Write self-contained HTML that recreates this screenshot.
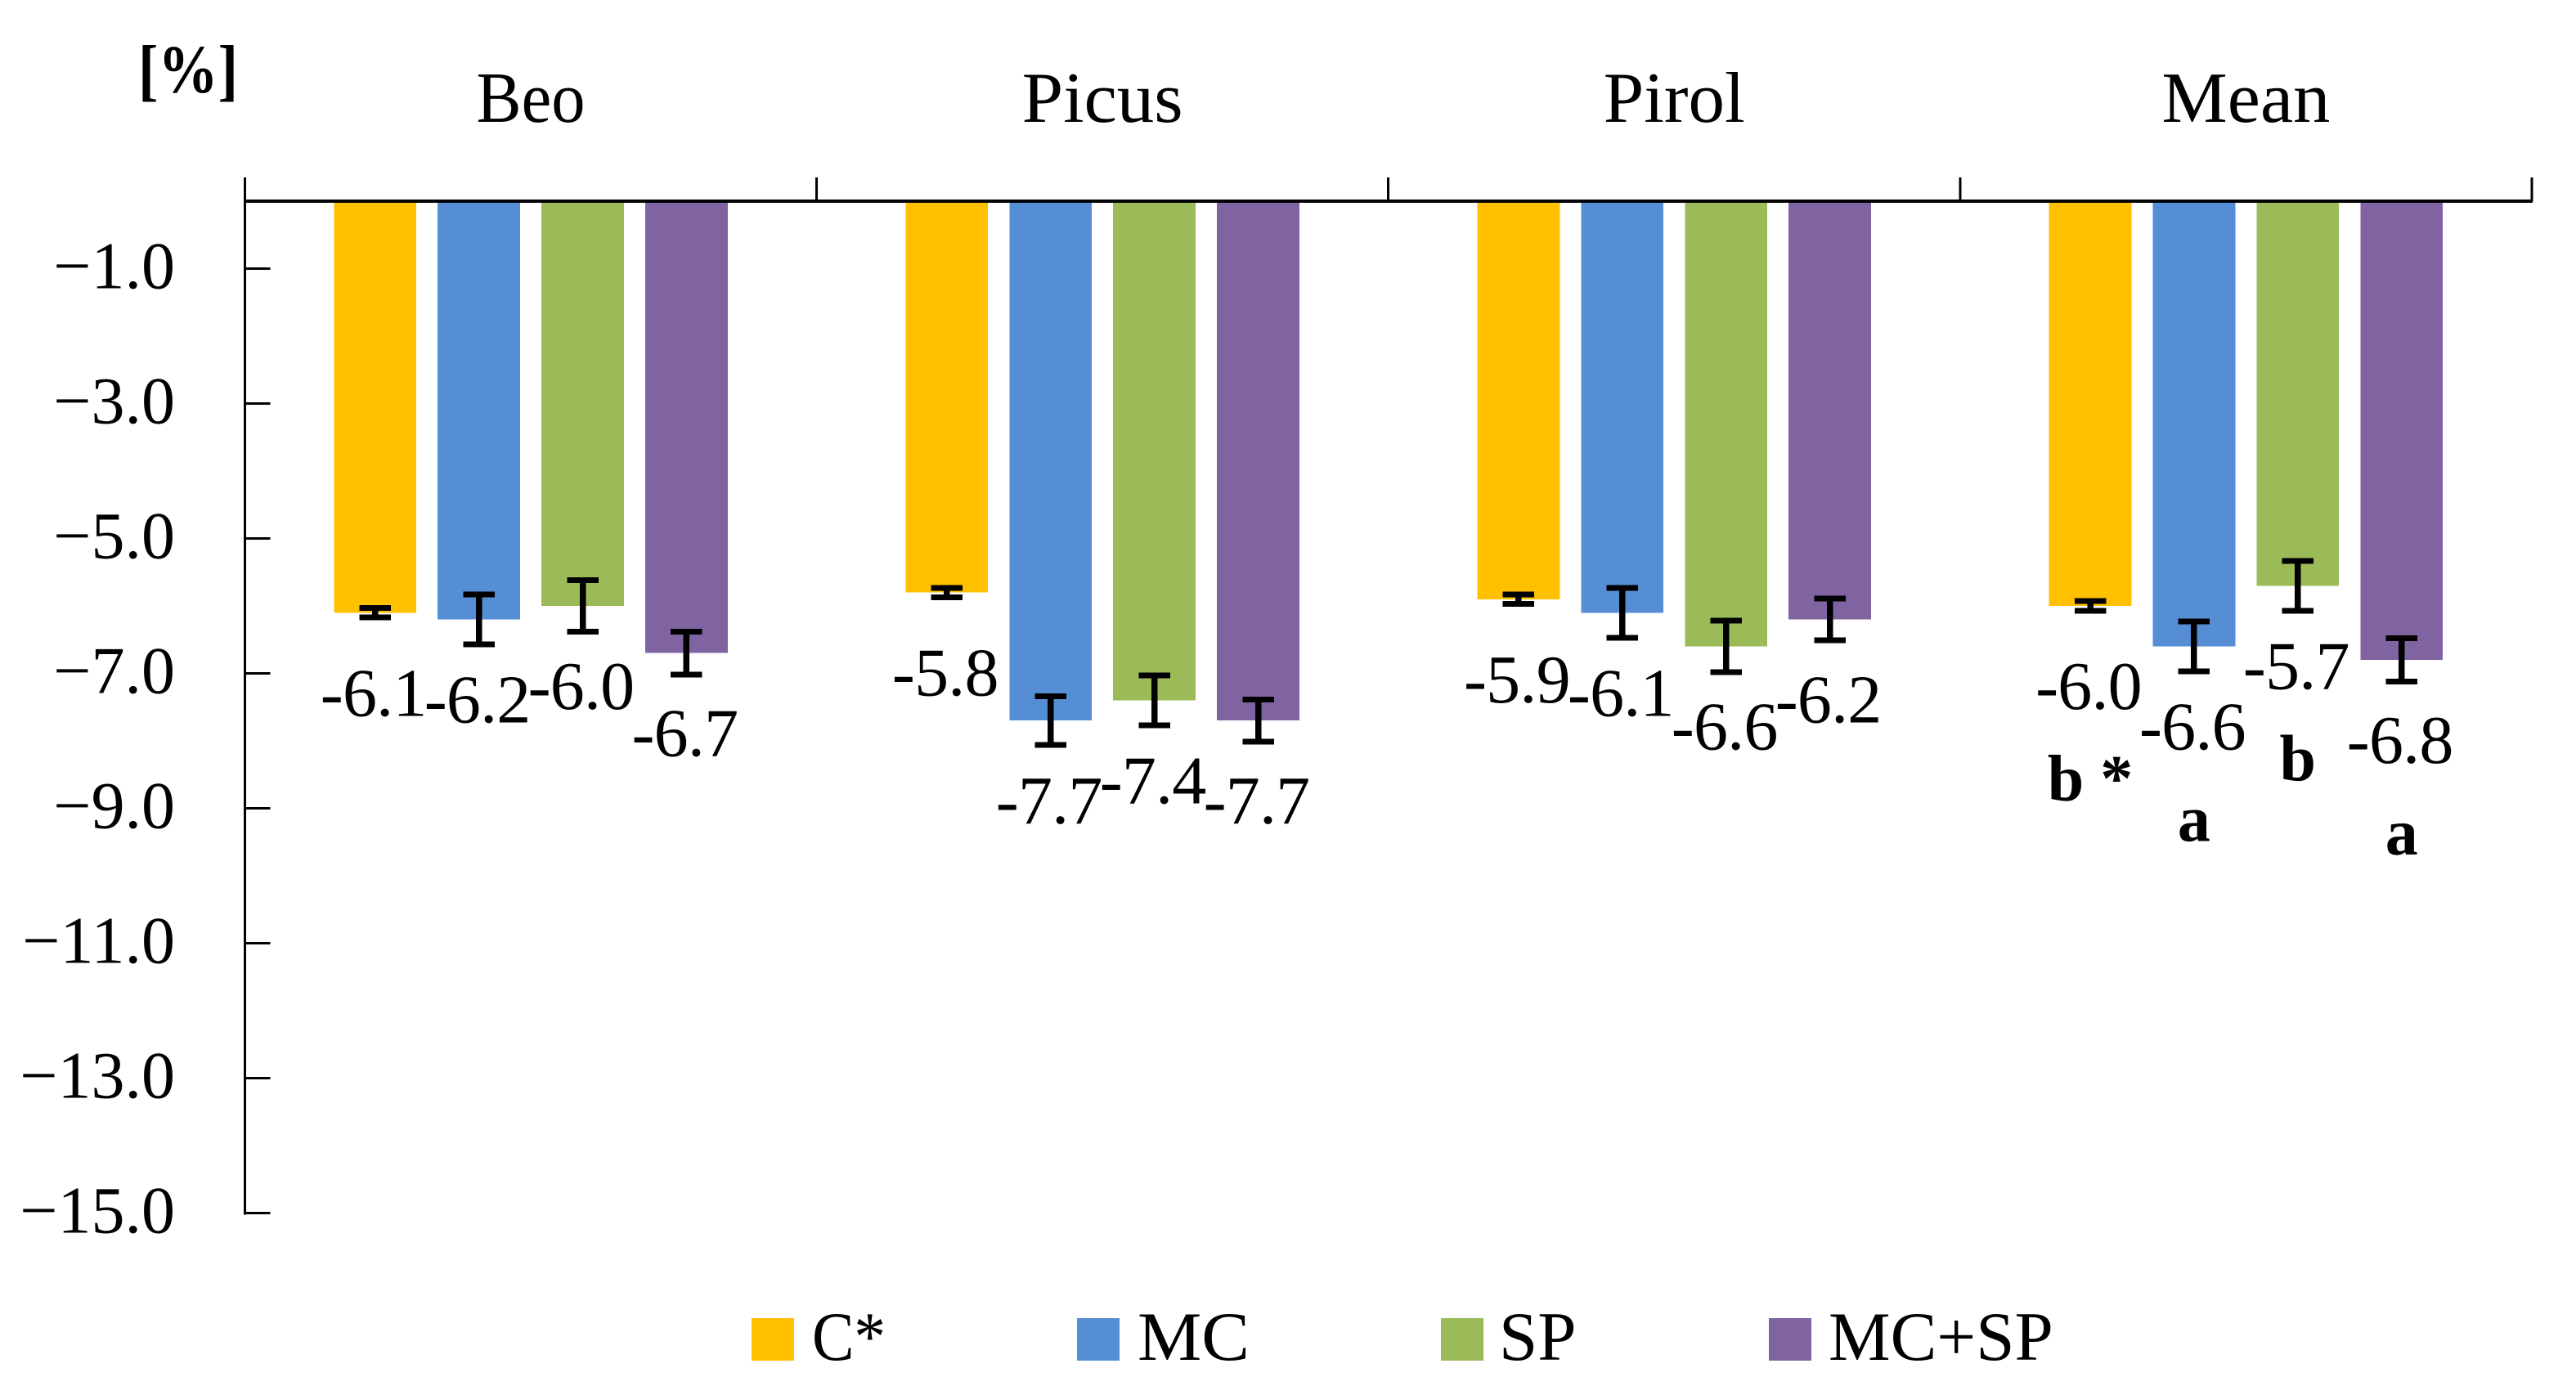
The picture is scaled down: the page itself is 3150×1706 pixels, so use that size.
<!DOCTYPE html>
<html lang="en">
<head>
<meta charset="utf-8">
<title>Bar chart of percentage change by cultivar and treatment</title>
<style>
  html, body { margin: 0; padding: 0; background: #fff; }
  svg { display: block; }
  text { font-family: "Liberation Serif", serif; fill: #000; }
</style>
</head>
<body>
<svg id="chart" xmlns="http://www.w3.org/2000/svg" width="3150" height="1706" viewBox="0 0 3150 1706">
  <rect x="0" y="0" width="3150" height="1706" fill="#ffffff"/>
  <text x="169" y="113" font-size="84" font-weight="bold" textLength="122" lengthAdjust="spacingAndGlyphs">[%]</text>
  <g>
    <rect x="919" y="1612" width="52" height="52" fill="#FFC000"/>
    <text x="993" y="1663" font-size="85" textLength="90" lengthAdjust="spacingAndGlyphs">C*</text>
    <rect x="1317" y="1612" width="52" height="52" fill="#558ED5"/>
    <text x="1391" y="1663" font-size="85" textLength="137" lengthAdjust="spacingAndGlyphs">MC</text>
    <rect x="1762" y="1612" width="52" height="52" fill="#9BBB59"/>
    <text x="1833" y="1663" font-size="85">SP</text>
    <rect x="2163" y="1612" width="52" height="52" fill="#8064A2"/>
    <text x="2236" y="1663" font-size="85">MC+SP</text>
  </g>
</svg>
<script>
// ---- Chart data ----
const categories = ["Beo", "Picus", "Pirol", "Mean"];
const seriesKeys = ["c", "mc", "sp", "mc-sp"];
const valuesC = [-6.1, -5.8, -5.9, -6.0];
const valuesMC = [-6.2, -7.7, -6.1, -6.6];
const valuesSP = [-6.0, -7.4, -6.6, -5.7];
const valuesMCSP = [-6.7, -7.7, -6.2, -6.8];
const errorsC = [0.07, 0.07, 0.07, 0.07];
const errorsMC = [0.37, 0.36, 0.37, 0.37];
const errorsSP = [0.38, 0.37, 0.38, 0.37];
const errorsMCSP = [0.32, 0.31, 0.31, 0.32];
const meanLetters = ["b *", "a", "b", "a"];
const yTickValues = [-1, -3, -5, -7, -9, -11, -13, -15];
const yTickLabels = ["\u22121.0", "\u22123.0", "\u22125.0", "\u22127.0", "\u22129.0", "\u221211.0", "\u221213.0", "\u221215.0"];

const seriesValues = [valuesC, valuesMC, valuesSP, valuesMCSP];
const seriesErrors = [errorsC, errorsMC, errorsSP, errorsMCSP];
const seriesColors = ["#FFC000", "#558ED5", "#9BBB59", "#8064A2"];

// ---- Layout and axis functions ----
const PLOT_LEFT = 299.5, CATEGORY_WIDTH = 699.1, ZERO_Y = 246.2, UNIT_HEIGHT = 82.47;
const BAR_PITCH = 126.9, BAR_WIDTH = 100.8;
const CAP_WIDTH = 38.5, CAP_THICKNESS = 7, STEM_WIDTH = 7.5;
const LABEL_OFFSET = 126, LETTER_OFFSET = 238;
const categoryLabelLengths = [133, 197, 173, 206];

function yScale(v) { return ZERO_Y - v * UNIT_HEIGHT; }
function categoryStart(i) { return PLOT_LEFT + i * CATEGORY_WIDTH; }
function categoryCenter(i) { return categoryStart(i) + CATEGORY_WIDTH / 2; }
function barCenter(c, s) { return categoryCenter(c) + (s - (seriesKeys.length - 1) / 2) * BAR_PITCH; }

const svg = document.getElementById("chart");
const NS = "http://www.w3.org/2000/svg";
function make(tag, attrs, parent) {
  const el = document.createElementNS(NS, tag);
  for (const k in attrs) el.setAttribute(k, attrs[k]);
  parent.appendChild(el);
  return el;
}

// ---- Bars ----
const barsGroup = make("g", {}, svg);


categories.forEach(function (cat, c) {
  seriesKeys.forEach(function (key, s) {
    const top = yScale(0);
    const bottom = yScale(seriesValues[s][c]);
    const bar = make("rect", {
      x: barCenter(c, s) - BAR_WIDTH / 2,
      y: top,
      width: BAR_WIDTH,
      height: bottom - top,
      fill: seriesColors[s],
      "shape-rendering": "crispEdges"
    }, barsGroup);
    
    
  });
});

// ---- Axes ----
const axesGroup = make("g", { stroke: "#000", "shape-rendering": "crispEdges" }, svg);



const xAxisLine = make("line", { x1: PLOT_LEFT, x2: categoryStart(categories.length) + 1, y1: yScale(0), y2: yScale(0), "stroke-width": 4 }, axesGroup);



const yAxisLine = make("line", { x1: PLOT_LEFT, x2: PLOT_LEFT, y1: 217, y2: yScale(-15) + 2, "stroke-width": 3 }, axesGroup);



for (let i = 1; i <= categories.length; i++) {
  const xTick = make("line", { x1: categoryStart(i), x2: categoryStart(i), y1: 217, y2: yScale(0), "stroke-width": 3 }, axesGroup);
  
  
}

yTickValues.forEach(function (v, i) {
  const yTick = make("line", { x1: PLOT_LEFT, x2: PLOT_LEFT + 31, y1: yScale(v), y2: yScale(v), "stroke-width": 3 }, axesGroup);
  
  

  const yLabel = make("text", { x: 214, y: yScale(v) + 24, "font-size": 82, "text-anchor": "end" }, svg);
  yLabel.textContent = yTickLabels[i];
  
  
});

// ---- Category labels ----
categories.forEach(function (cat, c) {
  const catLabel = make("text", {
    x: categoryCenter(c),
    y: 149,
    "font-size": 88,
    "text-anchor": "middle",
    textLength: categoryLabelLengths[c],
    lengthAdjust: "spacingAndGlyphs"
  }, svg);
  catLabel.textContent = cat;
  
  
});

// ---- Error bars ----
const errorGroup = make("g", { fill: "#000", "shape-rendering": "crispEdges" }, svg);


categories.forEach(function (cat, c) {
  seriesKeys.forEach(function (key, s) {
    const cx = barCenter(c, s);
    const v = seriesValues[s][c];
    const e = seriesErrors[s][c];
    const yUp = yScale(v + e);
    const yDown = yScale(v - e);
    const errorBar = make("g", {}, errorGroup);
    
    
    make("rect", { x: cx - STEM_WIDTH / 2, y: yUp, width: STEM_WIDTH, height: yDown - yUp }, errorBar);
    make("rect", { x: cx - CAP_WIDTH / 2, y: yUp - CAP_THICKNESS / 2, width: CAP_WIDTH, height: CAP_THICKNESS }, errorBar);
    make("rect", { x: cx - CAP_WIDTH / 2, y: yDown - CAP_THICKNESS / 2, width: CAP_WIDTH, height: CAP_THICKNESS }, errorBar);
  });
});

// ---- Value labels ----
categories.forEach(function (cat, c) {
  seriesKeys.forEach(function (key, s) {
    const v = seriesValues[s][c];
    const valueLabel = make("text", {
      x: barCenter(c, s) - 2,
      y: yScale(v) + LABEL_OFFSET,
      "font-size": 84,
      "letter-spacing": -0.8,
      "text-anchor": "middle"
    }, svg);
    valueLabel.textContent = v.toFixed(1);
    
    
  });
});

// ---- Significance letters on the Mean group ----
meanLetters.forEach(function (letter, s) {
  const meanIndex = categories.indexOf("Mean");
  const letterLabel = make("text", {
    x: barCenter(meanIndex, s),
    y: yScale(seriesValues[s][meanIndex]) + LETTER_OFFSET,
    "font-size": 80,
    "font-weight": "bold",
    "text-anchor": "middle"
  }, svg);
  letterLabel.textContent = letter;
  
  
});
</script>
</body>
</html>
